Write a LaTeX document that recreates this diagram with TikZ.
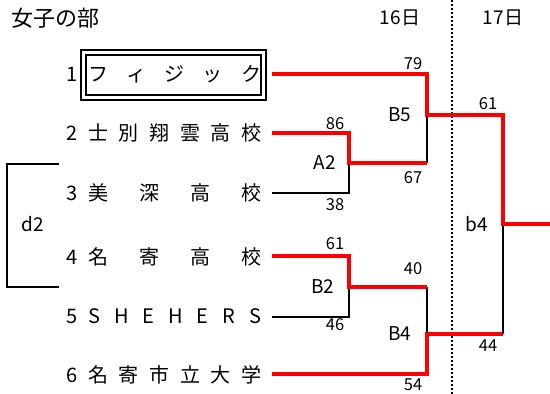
\documentclass[tikz,border=0pt]{standalone}
\usepackage{fontspec}
\setmainfont{Noto Sans CJK JP}
\newcommand{\spreadname}[1]{\hbox to 173pt{#1}}

\begin{document}
\begin{tikzpicture}[x=1pt,y=-1pt]
			\tikzstyle{team}=[anchor=west, inner sep=0pt, font=\fontsize{20}{20}\selectfont]
			\tikzstyle{seed}=[inner sep=0pt, font=\fontsize{20}{20}\selectfont]
			\tikzstyle{score}=[inner sep=0pt, font=\fontsize{16.5}{16.5}\selectfont]
			\tikzstyle{game}=[inner sep=0pt, font=\fontsize{19}{19}\selectfont]
			\tikzstyle{frame}=[draw, double, line width=2pt, double distance=3pt,
				minimum width=180pt, minimum height=44.5pt, inner sep=0pt]
			\tikzstyle{lost}=[-,draw=black,line width=2pt]
			\tikzstyle{won}=[-,draw=red,line width=4pt]
			\useasboundingbox (0,0) rectangle (550,394);
			% headings
			\node[anchor=west, inner sep=0pt, font=\fontsize{22}{22}\selectfont] (title) at (11,18) {女子の部};
			\node[game] (day16) at (400,18) {16日};
			\node[game] (day17) at (503,18) {17日};
			\coordinate (sepa) at (452,0);
			\coordinate (sepb) at (452,394);
			\draw (sepa) to (sepb) [line width=1.5pt, dash pattern=on 2pt off 2pt];
			% teams
			\node[frame] (box1) at (173.5,74.75) {};
			\node[seed] (n1) at (72,74) {1};
			\node[seed] (n2) at (72,133) {2};
			\node[seed] (n3) at (72,193) {3};
			\node[seed] (n4) at (72,257) {4};
			\node[seed] (n5) at (72,316) {5};
			\node[seed] (n6) at (72,375) {6};
			\node[team] (t1) at (88,74) {\spreadname{フ\hfill ィ\hfill ジ\hfill ッ\hfill ク}};
			\node[team] (t2) at (88,133) {\spreadname{士\hfill 別\hfill 翔\hfill 雲\hfill 高\hfill 校}};
			\node[team] (t3) at (88,193) {\spreadname{美\hfill 深\hfill 高\hfill 校}};
			\node[team] (t4) at (88,257) {\spreadname{名\hfill 寄\hfill 高\hfill 校}};
			\node[team] (t5) at (88,316) {\spreadname{S\hfill H\hfill E\hfill H\hfill E\hfill R\hfill S}};
			\node[team] (t6) at (88,375) {\spreadname{名\hfill 寄\hfill 市\hfill 立\hfill 大\hfill 学}};
			% bracket
			\coordinate (s1) at (272,74);
			\coordinate (s2) at (272,133);
			\coordinate (s3) at (272,193);
			\coordinate (s4) at (272,256);
			\coordinate (s5) at (272,317);
			\coordinate (s6) at (272,374);
			\coordinate (a2) at (349,163);
			\coordinate (b2) at (349,287);
			\coordinate (b5) at (427,115);
			\coordinate (b5lo) at (427,163);
			\coordinate (b4) at (427,334);
			\coordinate (b4hi) at (427,287);
			\coordinate (fin) at (503,224);
			\coordinate (finlo) at (503,334);
			\coordinate (out) at (550,224);
			\draw (s3) -| (a2) [lost];
			\draw (s5) -| (b2) [lost];
			\draw (b5lo) to (b5) [lost];
			\draw (b4hi) to (b4) [lost];
			\draw (finlo) to (fin) [lost];
			\draw (s1) -| (b5) -| (fin) -- (out) [won];
			\draw (s2) -| (a2) -- (b5lo) [won];
			\draw (s4) -| (b2) -- (b4hi) [won];
			\draw (s6) -| (b4) -- (finlo) [won];
			% game labels
			\node[game] (ga2) at (325,163) {A2};
			\node[game] (gb5) at (400,115) {B5};
			\node[game] (gb2) at (323,287) {B2};
			\node[game] (gb4) at (400,334) {B4};
			\node[game] (gfb4) at (477,224) {b4};
			% scores
			\node[score] (p1) at (413,64) {79};
			\node[score] (p2) at (335,124) {86};
			\node[score] (p3) at (413,178) {67};
			\node[score] (p4) at (335,205) {38};
			\node[score] (p5) at (335,244) {61};
			\node[score] (p6) at (335,325) {46};
			\node[score] (p7) at (413,269) {40};
			\node[score] (p8) at (413,385) {54};
			\node[score] (p9) at (488,104) {61};
			\node[score] (p10) at (488,346) {44};
			% pool
			\coordinate (d2a) at (59,164);
			\coordinate (d2b) at (59,287);
			\draw (d2a) -- ++(-52,0) |- (d2b) [lost];
			\node[game] (gd2) at (33,224) {d2};
		\end{tikzpicture}
\end{document}
